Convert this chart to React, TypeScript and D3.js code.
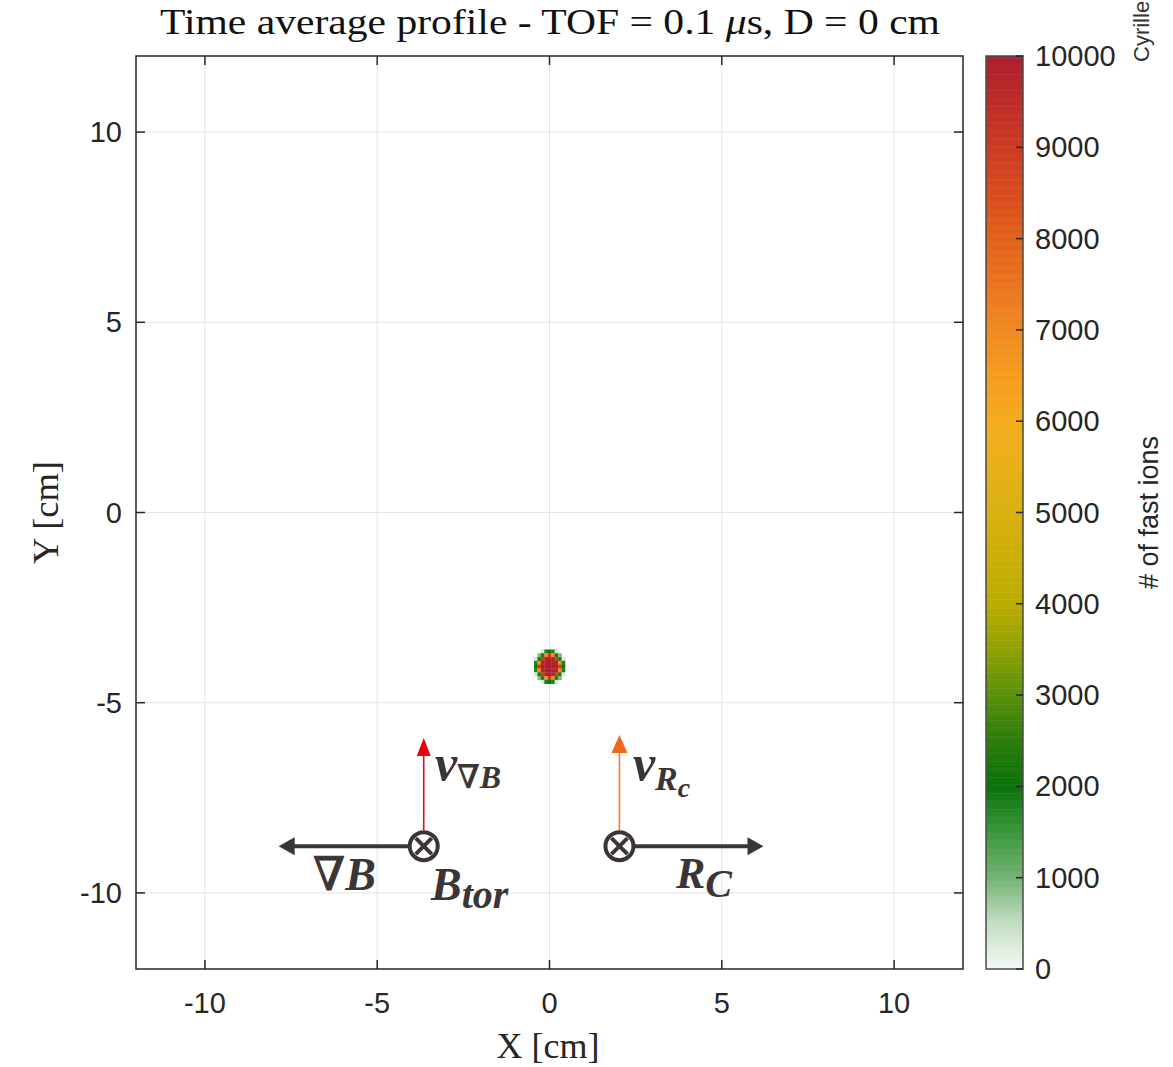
import React from "react";
import * as d3 from "d3";

// ---- data ----
const xTicks = [-10, -5, 0, 5, 10];
const yTicks = [-10, -5, 0, 5, 10];
const cbTicks = [0, 1000, 2000, 3000, 4000, 5000, 6000, 7000, 8000, 9000, 10000];
const cmapValues = [0, 500, 1000, 1500, 2000, 2500, 3000, 3500, 4000, 4500, 5000, 5500, 6000, 6500, 7000, 7500, 8000, 8500, 9000, 9500, 10000];
const cmapColors = ["#f4f8f4", "#c4dec4", "#74b274", "#3a983a", "#0a720a", "#2a7c0a", "#5a900a", "#8ea004", "#bcac00", "#ccae06", "#d8b010", "#e8b018", "#f4ac1c", "#f49c1e", "#f08a20", "#ea7420", "#e2621a", "#d84c1e", "#cc3a22", "#bc2c28", "#ac1e2e"];
// spot cell centres (cm) and counts
const spotX = [-0.4, -0.3, -0.2, -0.1, 0, 0.1, 0.2, 0.3, 0.4];
const spotY = [-3.65, -3.75, -3.85, -3.95, -4.05, -4.15, -4.25, -4.35, -4.45];
const spotCounts = [
  [0, 0, 300, 1800, 2200, 1800, 300, 0, 0],
  [0, 900, 2400, 6800, 9000, 6800, 2400, 900, 0],
  [300, 2400, 8800, 9800, 9900, 9800, 8800, 2400, 300],
  [1800, 6800, 9800, 9900, 10000, 9900, 9800, 6800, 1800],
  [2200, 9000, 9900, 10000, 10000, 10000, 9900, 9000, 2200],
  [1800, 6800, 9800, 9900, 10000, 9900, 9800, 6800, 1800],
  [300, 2400, 8800, 9800, 9900, 9800, 8800, 2400, 300],
  [0, 900, 2400, 6800, 9000, 6800, 2400, 900, 0],
  [0, 0, 300, 1800, 2200, 1800, 300, 0, 0],
];
const cellSize = 0.1;
const titleA = "Time average profile - TOF = 0.1 ";
const titleMu = "\u03bc";
const titleB = "s, D = 0 cm";
const cbLabel = "# of fast ions";
// annotation anchors (cm)
const btorCenter = { x: -3.65, y: -8.77 };
const rcCenter = { x: 2.03, y: -8.77 };
const gradBTipX = -7.86;
const rcTipX = 6.21;
const vGradBTipY = -5.93;
const vRcTipY = -5.85;

export default function App() {
  const W = 1173, H = 1067;
  const L = 136, R = 963, T = 56, B = 969;
  const x = d3.scaleLinear().domain([-12, 12]).range([L, R]);
  const y = d3.scaleLinear().domain([-12, 12]).range([B, T]);
  const color = d3.scaleLinear<string>().domain(cmapValues).range(cmapColors).clamp(true);
  const cbL = 986, cbR = 1023;
  const cy = d3.scaleLinear().domain([0, 10000]).range([B, T]);
  const axisColor = "#262626";
  const tickFont = "'Liberation Sans', Arial, sans-serif";
  const serif = "'Liberation Serif', 'Times New Roman', serif";
  const annFont = "'Liberation Serif', 'DejaVu Serif', serif";
  const dark = "#3b3535";
  const tickLen = 9;
  const grad = d3.range(0, 10000, 25);

  const circleCross = (cx: number, cyy: number) => {
    const r = 14, k = 8;
    return (
      <g stroke={dark} strokeWidth={4} fill="none">
        <circle cx={cx} cy={cyy} r={r} />
        <line x1={cx - k} y1={cyy - k} x2={cx + k} y2={cyy + k} />
        <line x1={cx - k} y1={cyy + k} x2={cx + k} y2={cyy - k} />
      </g>
    );
  };

  const bx = x(btorCenter.x), by = y(btorCenter.y);
  const rx = x(rcCenter.x), ry = y(rcCenter.y);

  return (
    <svg width={W} height={H} style={{ display: "block", position: "absolute", left: 0, top: 0 }}>
      <rect x={0} y={0} width={W} height={H} fill="#fff" />
      {/* grid */}
      <g stroke="#e3e3e3" strokeWidth={1}>
        {xTicks.map((t) => <line key={"gx" + t} x1={x(t)} x2={x(t)} y1={T} y2={B} />)}
        {yTicks.map((t) => <line key={"gy" + t} y1={y(t)} y2={y(t)} x1={L} x2={R} />)}
      </g>
      {/* spot */}
      <g>
        {spotCounts.map((row, i) =>
          row.map((v, j) =>
            v > 0 ? (
              <rect key={i + "-" + j}
                x={x(spotX[j] - cellSize / 2)} y={y(spotY[i] + cellSize / 2)}
                width={x(spotX[j] + cellSize / 2) - x(spotX[j] - cellSize / 2) + 0.3}
                height={y(spotY[i] - cellSize / 2) - y(spotY[i] + cellSize / 2) + 0.3}
                fill={color(v)} />
            ) : null
          )
        )}
      </g>
      {/* axes box and ticks */}
      <rect x={L} y={T} width={R - L} height={B - T} fill="none" stroke={axisColor} strokeWidth={1.5} />
      <g stroke={axisColor} strokeWidth={1.5}>
        {xTicks.map((t) => (
          <g key={"tx" + t}>
            <line x1={x(t)} x2={x(t)} y1={B} y2={B - tickLen} />
            <line x1={x(t)} x2={x(t)} y1={T} y2={T + tickLen} />
          </g>
        ))}
        {yTicks.map((t) => (
          <g key={"ty" + t}>
            <line x1={L} x2={L + tickLen} y1={y(t)} y2={y(t)} />
            <line x1={R} x2={R - tickLen} y1={y(t)} y2={y(t)} />
          </g>
        ))}
      </g>
      <g fill={axisColor} fontFamily={tickFont} fontSize={29}>
        {xTicks.map((t) => (
          <text key={"lx" + t} x={x(t)} y={1013} textAnchor="middle">{t}</text>
        ))}
        {yTicks.map((t) => (
          <text key={"ly" + t} x={122} y={y(t) + 10} textAnchor="end">{t}</text>
        ))}
      </g>
      {/* titles */}
      <text x={160} y={34} textLength={780} lengthAdjust="spacingAndGlyphs" fontFamily={serif} fontSize={36} fill="#111">
        {titleA}<tspan fontStyle="italic">{titleMu}</tspan>{titleB}
      </text>
      <text x={548} y={1058} textAnchor="middle" fontFamily={serif} fontSize={35} fill={axisColor} textLength={103} lengthAdjust="spacingAndGlyphs">X [cm]</text>
      <text transform={`translate(58,${y(0)}) rotate(-90)`} textAnchor="middle" fontFamily={serif} fontSize={35} fill={axisColor} textLength={103} lengthAdjust="spacingAndGlyphs">Y [cm]</text>

      {/* colorbar */}
      <g>
        {grad.map((v) => (
          <rect key={"cb" + v} x={cbL} width={cbR - cbL} y={cy(v + 25)} height={cy(v) - cy(v + 25) + 0.5} fill={color(v + 12.5)} />
        ))}
        <rect x={cbL} y={T} width={cbR - cbL} height={B - T} fill="none" stroke="#4a4a4a" strokeWidth={1.5} />
        <g stroke={axisColor} strokeWidth={1.5}>
          {cbTicks.map((t) => <line key={"ct" + t} x1={cbR} x2={cbR - 7} y1={cy(t)} y2={cy(t)} />)}
        </g>
        <g fill={axisColor} fontFamily={tickFont} fontSize={29}>
          {cbTicks.map((t) => <text key={"cl" + t} x={1035} y={cy(t) + 10}>{t}</text>)}
        </g>
        <text transform={`translate(1158,${y(0)}) rotate(-90)`} textAnchor="middle" fontFamily={tickFont} fontSize={27} fill={axisColor}>{cbLabel}</text>
      </g>
      <text transform={`translate(1149,62) rotate(-90)`} fontFamily={tickFont} fontSize={22} fill="#333">Cyrille</text>

      {/* annotations */}
      <g>
        {/* grad B arrow */}
        <line x1={bx - 14} y1={by} x2={x(gradBTipX) + 14} y2={by} stroke={dark} strokeWidth={4} />
        <path d={`M${x(gradBTipX)},${by} l16,-9 l0,18 z`} fill={dark} />
        {circleCross(bx, by)}
        {/* R_c arrow */}
        <line x1={rx + 14} y1={ry} x2={x(rcTipX) - 14} y2={ry} stroke={dark} strokeWidth={4} />
        <path d={`M${x(rcTipX)},${ry} l-16,-9 l0,18 z`} fill={dark} />
        {circleCross(rx, ry)}
        {/* v gradB arrow */}
        <line x1={bx} y1={by - 16} x2={bx} y2={y(vGradBTipY) + 18} stroke="#d8101a" strokeWidth={1.6} />
        <path d={`M${bx},${y(vGradBTipY)} l-7,18 l14,0 z`} fill="#e8000e" />
        {/* v Rc arrow */}
        <line x1={rx} y1={ry - 16} x2={rx} y2={y(vRcTipY) + 18} stroke="#f07a30" strokeWidth={1.6} />
        <path d={`M${rx},${y(vRcTipY)} l-8,18 l16,0 z`} fill="#f06818" />

        <g fill={dark} fontFamily={annFont} fontWeight="bold" fontStyle="italic">
          <text x={x(-6.86)} y={y(-9.92)} fontSize={46}>
            <tspan fontWeight="normal" fontStyle="normal" stroke={dark} strokeWidth={1}>{"\u2207"}</tspan>B
          </text>
          <text x={x(-3.44)} y={y(-10.19)} fontSize={46}>
            B<tspan fontSize={40} dy={8}>tor</tspan>
          </text>
          <text x={x(-3.32)} y={y(-7.03)} fontSize={50}>
            v<tspan fontSize={32} dy={8}><tspan fontWeight="normal" fontStyle="normal" stroke={dark} strokeWidth={0.8}>{"\u2207"}</tspan>B</tspan>
          </text>
          <text x={x(2.42)} y={y(-7.03)} fontSize={50}>
            v<tspan fontSize={34} dy={10}>R</tspan><tspan fontSize={28} dy={7}>c</tspan>
          </text>
          <text x={x(3.67)} y={y(-9.87)} fontSize={44}>
            R<tspan fontSize={40} dy={9}>C</tspan>
          </text>
        </g>
      </g>
    </svg>
  );
}
